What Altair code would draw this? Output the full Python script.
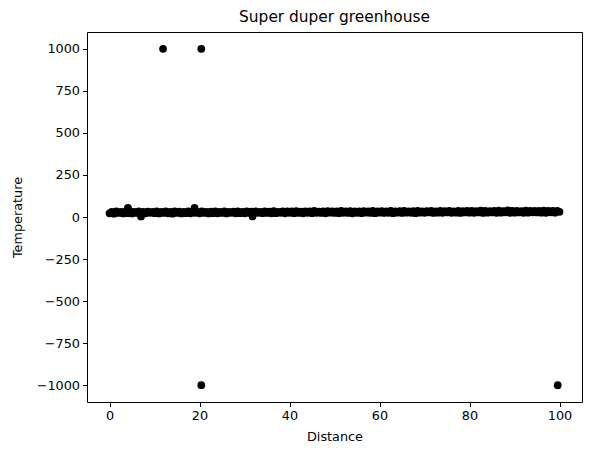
import altair as alt
import pandas as pd

distance = [
    0, 0.5, 1, 1.5, 2, 2.5, 3, 3.5, 4, 4.5,
    5, 5.5, 6, 6.5, 7, 7.5, 8, 8.5, 9, 9.5,
    10, 10.5, 11, 11.5, 12, 12.5, 13, 13.5, 14, 14.5,
    15, 15.5, 16, 16.5, 17, 17.5, 18, 18.5, 19, 19.5,
    20, 20.5, 21, 21.5, 22, 22.5, 23, 23.5, 24, 24.5,
    25, 25.5, 26, 26.5, 27, 27.5, 28, 28.5, 29, 29.5,
    30, 30.5, 31, 31.5, 32, 32.5, 33, 33.5, 34, 34.5,
    35, 35.5, 36, 36.5, 37, 37.5, 38, 38.5, 39, 39.5,
    40, 40.5, 41, 41.5, 42, 42.5, 43, 43.5, 44, 44.5,
    45, 45.5, 46, 46.5, 47, 47.5, 48, 48.5, 49, 49.5,
    50, 50.5, 51, 51.5, 52, 52.5, 53, 53.5, 54, 54.5,
    55, 55.5, 56, 56.5, 57, 57.5, 58, 58.5, 59, 59.5,
    60, 60.5, 61, 61.5, 62, 62.5, 63, 63.5, 64, 64.5,
    65, 65.5, 66, 66.5, 67, 67.5, 68, 68.5, 69, 69.5,
    70, 70.5, 71, 71.5, 72, 72.5, 73, 73.5, 74, 74.5,
    75, 75.5, 76, 76.5, 77, 77.5, 78, 78.5, 79, 79.5,
    80, 80.5, 81, 81.5, 82, 82.5, 83, 83.5, 84, 84.5,
    85, 85.5, 86, 86.5, 87, 87.5, 88, 88.5, 89, 89.5,
    90, 90.5, 91, 91.5, 92, 92.5, 93, 93.5, 94, 94.5,
    95, 95.5, 96, 96.5, 97, 97.5, 98, 98.5, 99, 99.5,
    100,
    4.1, 7.0, 18.9, 31.8, 11.9, 20.4, 20.4, 99.6,
]

temperature = [
    22, 31, 20, 33, 24, 30, 21, 32, 23, 34,
    21, 31, 24, 33, 20, 30, 22, 32, 25, 31,
    23, 33, 21, 30, 24, 34, 22, 31, 20, 33,
    24, 32, 21, 30, 23, 33, 22, 34, 25, 31,
    22, 33, 24, 31, 21, 32, 23, 34, 22, 30,
    24, 33, 21, 31, 25, 32, 22, 34, 23, 31,
    22, 33, 24, 32, 21, 34, 25, 31, 23, 33,
    24, 32, 22, 35, 23, 31, 25, 33, 22, 34,
    25, 33, 23, 35, 24, 32, 22, 34, 25, 33,
    23, 36, 25, 32, 24, 34, 22, 35, 26, 33,
    24, 34, 23, 36, 25, 33, 24, 35, 22, 34,
    25, 33, 23, 35, 26, 34, 24, 36, 23, 34,
    26, 35, 24, 33, 25, 37, 23, 34, 26, 35,
    24, 36, 26, 34, 25, 35, 23, 37, 26, 34,
    25, 35, 27, 36, 24, 34, 26, 37, 25, 35,
    27, 36, 25, 34, 26, 37, 24, 35, 27, 36,
    26, 37, 25, 35, 27, 38, 24, 36, 26, 35,
    27, 36, 25, 38, 26, 35, 28, 39, 25, 36,
    26, 37, 27, 35, 25, 38, 26, 36, 28, 37,
    27, 36, 26, 38, 25, 37, 28, 36, 26, 37,
    31,
    55, 3, 55, 3, 1000, 1000, -1000, -1000,
]

x_ticks = [0, 20, 40, 60, 80, 100]
y_ticks = [-1000, -750, -500, -250, 0, 250, 500, 750, 1000]

df = pd.DataFrame({"Distance": distance, "Temperature": temperature})

font = "DejaVu Sans"

chart = (
    alt.Chart(df)
    .mark_circle(size=60, color="black", opacity=1)
    .encode(
        x=alt.X(
            "Distance:Q",
            scale=alt.Scale(domain=[-5, 105], nice=False, zero=False),
            axis=alt.Axis(values=x_ticks, title="Distance", format="d"),
        ),
        y=alt.Y(
            "Temperature:Q",
            scale=alt.Scale(domain=[-1100, 1100], nice=False, zero=False),
            axis=alt.Axis(
                values=y_ticks,
                title="Temperature",
                format="d",
                labelExpr="replace(datum.label, '-', '\u2212')",
            ),
        ),
    )
    .properties(
        width=495,
        height=370,
        title=alt.TitleParams(
            "Super duper greenhouse",
            font=font,
            fontSize=15.4,
            fontWeight="normal",
            color="black",
            offset=7,
        ),
        autosize=alt.AutoSizeParams(type="none"),
        padding={"left": 79, "top": 24, "right": 2, "bottom": 45},
    )
    .configure_view(stroke="black", strokeWidth=1)
    .configure_axis(
        grid=False,
        domain=False,
        tickColor="black",
        tickSize=4.5,
        tickWidth=1,
        labelFont=font,
        labelFontSize=12.8,
        labelColor="black",
        labelPadding=3,
        titleFont=font,
        titleFontSize=12.8,
        titleFontWeight="normal",
        titleColor="black",
    )
    .configure_axisX(titlePadding=8)
    .configure_axisY(titlePadding=12)
)

chart.save("out.html", embed_options={"renderer": "svg", "actions": False})
